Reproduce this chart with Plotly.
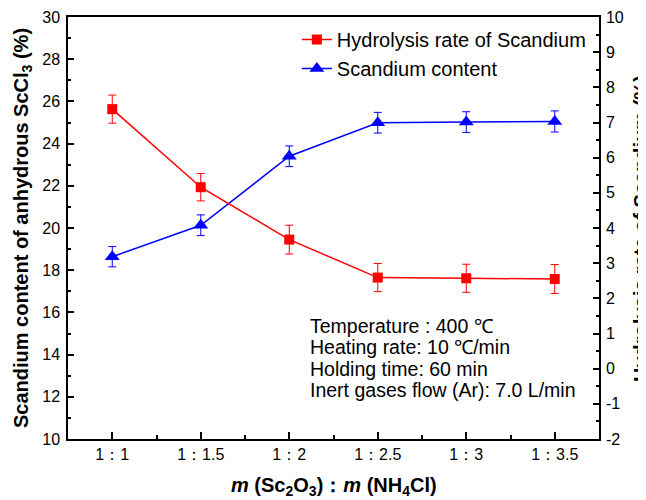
import plotly.graph_objects as go

# ---- data ----
categories = ["1：1", "1：1.5", "1：2", "1：2.5", "1：3", "1：3.5"]
hydrolysis_rate = [7.38, 5.16, 3.67, 2.59, 2.57, 2.55]
hydrolysis_err = [0.40, 0.39, 0.41, 0.40, 0.40, 0.41]
sc_content = [18.64, 20.13, 23.40, 24.99, 25.02, 25.05]
sc_err = [0.48, 0.49, 0.49, 0.49, 0.49, 0.50]
left_ticks = list(range(10, 31, 2))
right_ticks = list(range(-2, 11))
condition_lines = [
    "Temperature : 400 ℃",
    "Heating rate: 10 ℃/min",
    "Holding time: 60 min",
    "Inert gases flow (Ar): 7.0 L/min",
]

FONT = "Liberation Sans, Arial, sans-serif"
RED = "#FF0000"
BLUE = "#0000FF"

x = list(range(len(categories)))

fig = go.Figure()
fig.add_trace(go.Scatter(
    x=x, y=hydrolysis_rate, yaxis="y2", mode="lines+markers",
    name="Hydrolysis rate of Scandium", legendgroup="a",
    line=dict(color=RED, width=1.5),
    marker=dict(symbol="square", size=10, color=RED),
    error_y=dict(type="data", array=hydrolysis_err, color=RED, thickness=1, width=4),
))
fig.add_trace(go.Scatter(
    x=x, y=sc_content, yaxis="y", mode="lines+markers",
    name="Scandium content", legendgroup="b",
    line=dict(color=BLUE, width=1.5),
    marker=dict(symbol="triangle-up", size=13, color=BLUE),
    error_y=dict(type="data", array=sc_err, color=BLUE, thickness=1, width=4),
))

axis_common = dict(
    showline=True, linecolor="black", linewidth=1.5, showgrid=False, zeroline=False,
    ticks="inside", tickcolor="black", tickwidth=1.5, automargin=False,
    tickfont=dict(family=FONT, size=16, color="black"),
)

# page body has an 8px margin, so the figure is 8px smaller and offset
fig.update_layout(
    width=638, height=492,
    margin=dict(l=60, r=47, t=9, b=61),
    paper_bgcolor="white", plot_bgcolor="white",
    font=dict(family=FONT, color="black"),
    xaxis=dict(
        **axis_common, mirror=True, range=[-0.5, len(categories) - 0.5],
        tickmode="array", tickvals=x, ticktext=categories, ticklen=7,
        minor=dict(tickmode="array", tickvals=[i + 0.5 for i in range(-1, len(categories))],
                   ticks="inside", ticklen=4, tickwidth=1.5, tickcolor="black"),
    ),
    yaxis=dict(
        **axis_common, range=[10, 30], tickmode="array", tickvals=left_ticks,
        ticklen=6, ticklabelstandoff=3,
        minor=dict(tickmode="linear", tick0=10, dtick=1, ticks="inside", ticklen=3,
                   tickwidth=1.5, tickcolor="black"),
    ),
    yaxis2=dict(
        **axis_common, overlaying="y", side="right", range=[-2, 10],
        tickmode="array", tickvals=right_ticks, ticktext=[str(v) for v in right_ticks],
        ticklen=6, ticklabelstandoff=2,
        minor=dict(tickmode="linear", tick0=-2, dtick=0.5, ticks="inside", ticklen=3,
                   tickwidth=1.5, tickcolor="black"),
    ),
    legend=dict(
        x=0.431, y=0.993, xanchor="left", yanchor="top",
        font=dict(family=FONT, size=20, color="black"),
        bgcolor="rgba(0,0,0,0)", traceorder="grouped", tracegroupgap=0,
    ),
    showlegend=True,
)

annotations = [
    dict(text="<b>Scandium content of anhydrous ScCl<sub>3</sub> (%)</b>",
         xref="paper", yref="paper", x=-0.0866, y=0.5, xanchor="center", yanchor="middle",
         textangle=-90, showarrow=False, font=dict(family=FONT, size=20, color="black")),
    dict(text="<b>Hydrolysis rate of Scandium (%)</b>",
         xref="paper", yref="paper", x=1.079, y=0.5, xanchor="center", yanchor="middle",
         textangle=-90, showarrow=False, font=dict(family=FONT, size=20, color="black")),
    dict(text="<b><i>m</i> (Sc<sub>2</sub>O<sub>3</sub>)：<i>m</i> (NH<sub>4</sub>Cl)</b>",
         xref="paper", yref="paper", x=0.5, y=-0.1137, xanchor="center", yanchor="middle",
         showarrow=False, font=dict(family=FONT, size=20, color="black")),
]
line_y_px = [325.8, 347.2, 368.6, 390.0]
for txt, ypx in zip(condition_lines, line_y_px):
    annotations.append(dict(
        text=txt, xref="paper", yref="paper", x=(308 - 68) / 531, y=(439 - ypx) / 422,
        xanchor="left", yanchor="middle", showarrow=False,
        font=dict(family=FONT, size=19.5, color="black"),
    ))
fig.update_layout(annotations=annotations)

fig.write_html("out.html")
